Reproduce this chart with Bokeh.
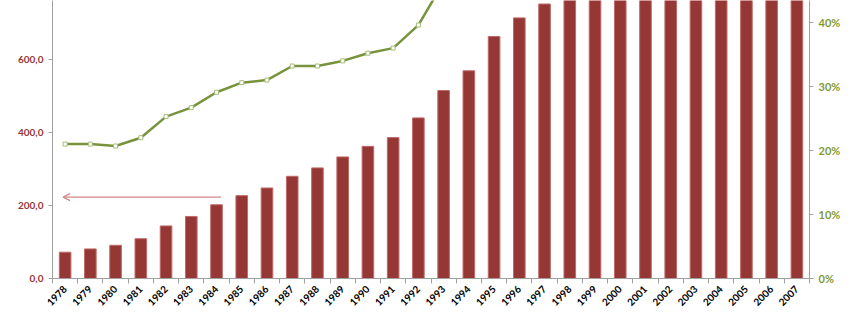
from bokeh.plotting import figure
from bokeh.models import (Range1d, LinearAxis, FixedTicker, Arrow, OpenHead,
                          ColumnDataSource, NumeralTickFormatter)
from bokeh.embed import file_html
from bokeh.resources import INLINE
import math

years = [str(y) for y in range(1978, 2008)]
values = [72, 81, 91, 109, 144, 170, 202, 227, 248, 280,
          303, 333, 362, 386, 440, 515, 569, 663, 714, 752,
          795, 830, 880, 940, 1010, 1120, 1270, 1450, 1700, 2050]
rates = [21.0, 21.0, 20.7, 22.0, 25.3, 26.7, 29.1, 30.6, 31.0, 33.2,
         33.2, 34.0, 35.2, 36.0, 39.6, 46.3, 51.0, 54.0, 57.0, 60.0,
         62.0, 63.0, 64.0, 65.0, 66.0, 67.0, 68.0, 69.0, 70.0, 71.0]
left_ticks = [0, 200, 400, 600]
left_labels = ["0,0", "200,0", "400,0", "600,0"]
right_ticks = [0, 0.1, 0.2, 0.3, 0.4]
arrow_value = 223
arrow_from = 6.18
arrow_to = -0.08

idx = list(range(len(years)))
src = ColumnDataSource(dict(x=idx, v=values, r=[q / 100 for q in rates]))

p = figure(width=851, height=315, output_backend="svg", toolbar_location=None,
           x_range=Range1d(-0.5, len(years) - 0.5), y_range=Range1d(0, 761.6),
           min_border_left=52, min_border_right=42, min_border_top=0,
           min_border_bottom=37)
p.outline_line_color = None
p.xgrid.visible = False
p.ygrid.visible = False
p.background_fill_color = "white"
p.border_fill_color = "white"

p.extra_y_ranges = {"rate": Range1d(0, 0.4344)}

p.vbar(x="x", top="v", width=0.46, source=src, fill_color="#953735",
       line_color="#c06a68", line_width=1)
p.line(x="x", y="r", source=src, y_range_name="rate", line_color="#77933c",
       line_width=2.5)
p.scatter(x="x", y="r", source=src, y_range_name="rate", marker="square",
          size=4, fill_color="white", line_color="#a6bd78", line_width=1)

p.add_layout(Arrow(end=OpenHead(size=7, line_color="#d08a88", line_width=1.2),
                   x_start=arrow_from, y_start=arrow_value,
                   x_end=arrow_to, y_end=arrow_value,
                   line_color="#d08a88", line_width=1.2))

font = "Lato"
# x axis
xa = p.xaxis[0]
xa.ticker = FixedTicker(ticks=idx, minor_ticks=[i - 0.5 for i in range(len(years) + 1)])
xa.major_label_overrides = {i: y for i, y in enumerate(years)}
xa.major_tick_line_color = None
xa.minor_tick_out = 5
xa.minor_tick_in = 0
xa.minor_tick_line_color = "#a0a0a0"
xa.axis_line_color = "#a0a0a0"
xa.major_label_orientation = math.pi / 4
xa.major_label_text_font = font
xa.major_label_text_font_style = "bold"
xa.major_label_text_font_size = "10px"
xa.major_label_text_color = "#000000"
xa.major_label_standoff = 3

# left axis
ya = p.yaxis[0]
ya.ticker = FixedTicker(ticks=left_ticks, minor_ticks=[])
ya.major_label_overrides = {t: l for t, l in zip(left_ticks, left_labels)}
ya.axis_line_color = "#a0a0a0"
ya.major_tick_line_color = "#a0a0a0"
ya.major_tick_out = 4
ya.major_tick_in = 0
ya.minor_tick_line_color = None
ya.major_label_text_font = font
ya.major_label_text_font_style = "bold"
ya.major_label_text_font_size = "10px"
ya.major_label_text_color = "#953735"

# right axis
ra = LinearAxis(y_range_name="rate", ticker=FixedTicker(ticks=right_ticks, minor_ticks=[]),
                formatter=NumeralTickFormatter(format="0%"))
ra.axis_line_color = "#a0a0a0"
ra.major_tick_line_color = "#a0a0a0"
ra.major_tick_out = 4
ra.major_tick_in = 0
ra.minor_tick_line_color = None
ra.major_label_text_font = font
ra.major_label_text_font_style = "bold"
ra.major_label_text_font_size = "11px"
ra.major_label_text_color = "#7f9a35"
p.add_layout(ra, "right")

open("out.html", "w").write(file_html(p, INLINE))
